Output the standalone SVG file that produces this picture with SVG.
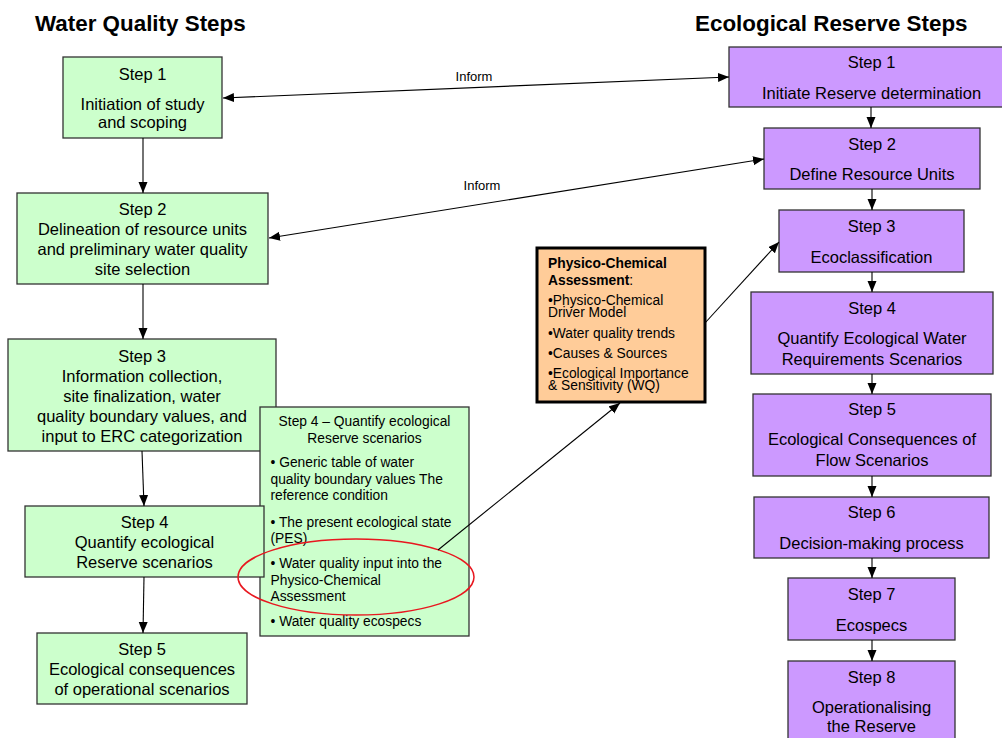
<svg xmlns="http://www.w3.org/2000/svg" width="1002" height="738" viewBox="0 0 1002 738">
  <style>
    text { font-family: "Liberation Sans", Arial, sans-serif; fill: #000; }
    .title { font-size: 22.4px; font-weight: bold; }
    .lbl { font-size: 16.5px; text-anchor: middle; }
    .small { font-size: 13.8px; }
    .mid { text-anchor: middle; }
    .inform { font-size: 13px; text-anchor: middle; }
    .wq { fill: #CCFFCC; stroke: #333; stroke-width: 1.3; }
    .er { fill: #CC99FF; stroke: #333; stroke-width: 1.3; }
    .pc { fill: #FFCC99; stroke: #000; stroke-width: 3; }
    .conn { stroke: #000; stroke-width: 1.1; fill: none; }
  </style>
  <defs>
    <marker id="head" markerUnits="userSpaceOnUse" markerWidth="12" markerHeight="10" refX="11" refY="4.5" orient="auto-start-reverse">
      <path d="M0,0 L11,4.5 L0,9 z" fill="#000"/>
    </marker>
  </defs>

  <rect width="1002" height="738" fill="#fff"/>

  <text class="title" x="35" y="31">Water Quality Steps</text>
  <text class="title" x="695" y="31">Ecological Reserve Steps</text>

  <!-- water quality column -->
  <g id="wq-step1">
    <rect class="wq" x="63" y="57" width="159" height="81"/>
    <text class="lbl" x="142.5" y="80">Step 1</text>
    <text class="lbl" x="142.5" y="110">Initiation of study</text>
    <text class="lbl" x="142.5" y="128">and scoping</text>
  </g>
  <g id="wq-step2">
    <rect class="wq" x="17" y="193" width="251" height="91"/>
    <text class="lbl" x="142.5" y="215">Step 2</text>
    <text class="lbl" x="142.5" y="235">Delineation of resource units</text>
    <text class="lbl" x="142.5" y="255">and preliminary water quality</text>
    <text class="lbl" x="142.5" y="275">site selection</text>
  </g>
  <g id="wq-step3">
    <rect class="wq" x="8" y="339" width="268" height="112"/>
    <text class="lbl" x="142" y="361.5">Step 3</text>
    <text class="lbl" x="142" y="381.5">Information collection,</text>
    <text class="lbl" x="142" y="401.5">site finalization, water</text>
    <text class="lbl" x="142" y="421.5">quality boundary values, and</text>
    <text class="lbl" x="142" y="441.5">input to ERC categorization</text>
  </g>
  <g id="wq-step4-detail">
    <rect class="wq" x="260" y="407" width="209" height="229"/>
    <text class="small mid" x="364.5" y="426">Step 4 – Quantify ecological</text>
    <text class="small mid" x="364.5" y="442.5">Reserve scenarios</text>
    <text class="small" x="270.5" y="467">• Generic table of water</text>
    <text class="small" x="270.5" y="483.5">quality boundary values The</text>
    <text class="small" x="270.5" y="500">reference condition</text>
    <text class="small" x="270.5" y="526.5">• The present ecological state</text>
    <text class="small" x="270.5" y="542.5">(PES)</text>
    <text class="small" x="270.5" y="567.5">• Water quality input into the</text>
    <text class="small" x="270.5" y="584.5">Physico-Chemical</text>
    <text class="small" x="270.5" y="601">Assessment</text>
    <text class="small" x="270.5" y="626">• Water quality ecospecs</text>
  </g>
  <g id="wq-step4">
    <rect class="wq" x="25" y="506" width="239" height="71"/>
    <text class="lbl" x="144.5" y="528">Step 4</text>
    <text class="lbl" x="144.5" y="548">Quantify ecological</text>
    <text class="lbl" x="144.5" y="568">Reserve scenarios</text>
  </g>
  <g id="wq-step5">
    <rect class="wq" x="37" y="633" width="210" height="71"/>
    <text class="lbl" x="142" y="655">Step 5</text>
    <text class="lbl" x="142" y="675">Ecological consequences</text>
    <text class="lbl" x="142" y="695">of operational scenarios</text>
  </g>
  <g id="highlight">
    <ellipse cx="356" cy="577" rx="118" ry="38" fill="none" stroke="#E8171F" stroke-width="1.5"/>
  </g>

  <!-- physico-chemical assessment -->
  <g id="pc-assessment">
    <rect class="pc" x="537" y="248" width="168" height="154"/>
    <text class="small" x="548" y="267.5" font-weight="bold">Physico-Chemical</text>
    <text class="small" x="548" y="285"><tspan font-weight="bold">Assessment</tspan>:</text>
    <text class="small" x="548" y="304.5">•Physico-Chemical</text>
    <text class="small" x="548" y="316.5">Driver Model</text>
    <text class="small" x="548" y="337.5">•Water quality trends</text>
    <text class="small" x="548" y="358">•Causes &amp; Sources</text>
    <text class="small" x="548" y="378">•Ecological Importance</text>
    <text class="small" x="548" y="390">&amp; Sensitivity (WQ)</text>
  </g>

  <!-- ecological reserve column -->
  <g id="er-step1">
    <rect class="er" x="729" y="47" width="285" height="60"/>
    <text class="lbl" x="871.5" y="68">Step 1</text>
    <text class="lbl" x="871.5" y="99">Initiate Reserve determination</text>
  </g>
  <g id="er-step2">
    <rect class="er" x="764" y="128" width="216" height="61"/>
    <text class="lbl" x="872" y="150">Step 2</text>
    <text class="lbl" x="872" y="180">Define Resource Units</text>
  </g>
  <g id="er-step3">
    <rect class="er" x="779" y="210" width="185" height="62"/>
    <text class="lbl" x="871.5" y="231.5">Step 3</text>
    <text class="lbl" x="871.5" y="262.5">Ecoclassification</text>
  </g>
  <g id="er-step4">
    <rect class="er" x="751" y="292" width="242" height="82"/>
    <text class="lbl" x="872" y="314">Step 4</text>
    <text class="lbl" x="872" y="344">Quantify Ecological Water</text>
    <text class="lbl" x="872" y="364.5">Requirements Scenarios</text>
  </g>
  <g id="er-step5">
    <rect class="er" x="753" y="394" width="238" height="82"/>
    <text class="lbl" x="872" y="415">Step 5</text>
    <text class="lbl" x="872" y="445">Ecological Consequences of</text>
    <text class="lbl" x="872" y="465.5">Flow Scenarios</text>
  </g>
  <g id="er-step6">
    <rect class="er" x="754" y="497" width="235" height="61"/>
    <text class="lbl" x="871.5" y="518">Step 6</text>
    <text class="lbl" x="871.5" y="548.5">Decision-making process</text>
  </g>
  <g id="er-step7">
    <rect class="er" x="788" y="578" width="167" height="62"/>
    <text class="lbl" x="871.5" y="600">Step 7</text>
    <text class="lbl" x="871.5" y="630.5">Ecospecs</text>
  </g>
  <g id="er-step8">
    <rect class="er" x="788" y="661" width="167" height="90"/>
    <text class="lbl" x="871.5" y="683">Step 8</text>
    <text class="lbl" x="871.5" y="713">Operationalising</text>
    <text class="lbl" x="871.5" y="732">the Reserve</text>
  </g>

  <!-- connectors -->
  <g id="connectors" class="conn">
    <line x1="143" y1="138" x2="143" y2="193" marker-end="url(#head)"/>
    <line x1="143" y1="284" x2="143" y2="339" marker-end="url(#head)"/>
    <line x1="142" y1="451" x2="144" y2="506" marker-end="url(#head)"/>
    <line x1="144" y1="577" x2="143" y2="633" marker-end="url(#head)"/>

    <line x1="871" y1="107" x2="871" y2="128" marker-end="url(#head)"/>
    <line x1="872" y1="189" x2="872" y2="210" marker-end="url(#head)"/>
    <line x1="872" y1="272" x2="872" y2="292" marker-end="url(#head)"/>
    <line x1="872" y1="374" x2="872" y2="394" marker-end="url(#head)"/>
    <line x1="872" y1="476" x2="872" y2="497" marker-end="url(#head)"/>
    <line x1="872" y1="558" x2="872" y2="578" marker-end="url(#head)"/>
    <line x1="872" y1="640" x2="872" y2="661" marker-end="url(#head)"/>

    <line x1="223" y1="98" x2="729" y2="77" marker-start="url(#head)" marker-end="url(#head)"/>
    <line x1="269" y1="238" x2="764" y2="159" marker-start="url(#head)" marker-end="url(#head)"/>
    <line x1="438" y1="550" x2="620" y2="403" marker-end="url(#head)"/>
    <line x1="705" y1="323" x2="779" y2="242" marker-end="url(#head)"/>
  </g>
  <g id="connector-labels">
    <text class="inform" x="474" y="81">Inform</text>
    <text class="inform" x="482" y="190">Inform</text>
  </g>
</svg>
